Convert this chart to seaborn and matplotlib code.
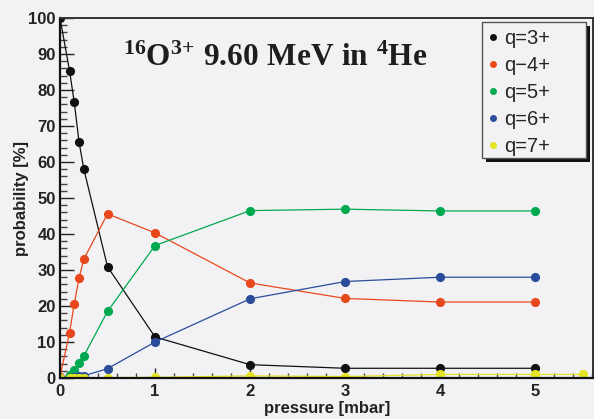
import matplotlib
matplotlib.use("Agg")
import matplotlib.pyplot as plt
import pandas as pd
import seaborn as sns
from matplotlib.lines import Line2D
from matplotlib.patches import Rectangle
from matplotlib.ticker import MultipleLocator

# Charge-state fractions of 16O ions after the helium gas cell
pressure = [0, 0.1, 0.15, 0.2, 0.25, 0.5, 1, 2, 3, 4, 5]
pressure_q7 = [0, 0.1, 0.15, 0.2, 0.25, 0.5, 1, 2, 3, 4, 5, 5.5]

q3 = [100, 85.4, 76.6, 65.6, 58.1, 30.9, 11.4, 3.7, 2.7, 2.7, 2.7]
q4 = [0.4, 12.5, 20.6, 27.7, 33.0, 45.6, 40.3, 26.4, 22.1, 21.1, 21.1]
q5 = [0.0, 0.8, 2.2, 4.1, 6.1, 18.5, 36.8, 46.5, 46.9, 46.4, 46.4]
q6 = [0.0, 0.0, 0.2, 0.5, 0.6, 2.6, 10.0, 22.0, 26.8, 28.0, 28.0]
q7 = [0.0, 0.0, 0.0, 0.0, 0.0, 0.1, 0.2, 0.6, 0.4, 1.0, 1.0, 1.0]

labels = ["q=3+", "q\u22124+", "q=5+", "q=6+", "q=7+"]
colors = ["#111111", "#e9481c", "#00a94f", "#2b4c9a", "#e4e424"]
x_ticks = [0, 1, 2, 3, 4, 5]
y_ticks = [0, 10, 20, 30, 40, 50, 60, 70, 80, 90, 100]

series = [(pressure, q3), (pressure, q4), (pressure, q5), (pressure, q6), (pressure_q7, q7)]
df = pd.concat(
    [pd.DataFrame({"pressure": xs, "probability": ys, "charge": lab})
     for lab, (xs, ys) in zip(labels, series)],
    ignore_index=True,
)

bg = "#f2f2f4"
sns.set_style("ticks", {"axes.facecolor": bg, "figure.facecolor": bg})
plt.rcParams["font.family"] = ["Liberation Sans", "DejaVu Sans"]
plt.rcParams["mathtext.fontset"] = "custom"
plt.rcParams["mathtext.rm"] = "Liberation Serif:bold"
plt.rcParams["mathtext.bf"] = "Liberation Serif:bold"
plt.rcParams["mathtext.it"] = "Liberation Serif:bold"

W, H = 594, 419
fig = plt.figure(figsize=(W / 100, H / 100), dpi=100, facecolor=bg)
ax = fig.add_axes([60 / W, 41 / H, 533 / W, 360 / H])
ax.set_facecolor(bg)

sns.lineplot(
    data=df, x="pressure", y="probability", hue="charge", hue_order=labels,
    palette=colors, marker="o", markersize=6.6, markeredgewidth=0,
    linewidth=0.9, legend=False, sort=False, estimator=None, ax=ax,
)

ax.set_xlim(0, 5.607)
ax.set_ylim(0, 100)
ax.set_xticks(x_ticks)
ax.set_yticks(y_ticks)
ax.xaxis.set_minor_locator(MultipleLocator(0.2))
ax.yaxis.set_minor_locator(MultipleLocator(2))
ax.set_xlabel("")
ax.set_ylabel("")

for side in ["left", "bottom"]:
    ax.spines[side].set_linewidth(1.6)
    ax.spines[side].set_color("#111111")
for side in ["top", "right"]:
    ax.spines[side].set_linewidth(1.4)
    ax.spines[side].set_color("#333333")

ax.tick_params(axis="y", which="major", direction="in", length=10, width=1,
               color="#222222", left=True, right=False, pad=3)
ax.tick_params(axis="y", which="minor", direction="in", length=5, width=1,
               color="#444444", left=True, right=False)
ax.tick_params(axis="x", which="major", direction="in", length=7, width=1,
               color="#222222", bottom=True, top=False, pad=4)
ax.tick_params(axis="x", which="minor", direction="in", length=3.6, width=1,
               color="#444444", bottom=True, top=False)
for lab in ax.get_xticklabels() + ax.get_yticklabels():
    lab.set_fontweight("bold")
    lab.set_fontsize(12)
    lab.set_color("#222222")

fig.text(22 / W, 1 - 198 / H, "probability [%]", rotation=90, ha="center",
         va="center", fontsize=12, fontweight="bold", color="#222222")
fig.text(327 / W, 1 - 408 / H, "pressure [mbar]", ha="center", va="center",
         fontsize=12, fontweight="bold", color="#222222")

fig.text(275.5 / W, 1 - 65.5 / H,
         r"$^{16}\mathrm{O}^{3{+}}\ 9.60\ \mathrm{MeV\ in}\ ^{4}\mathrm{He}$",
         ha="center", va="baseline", fontsize=22.5, color="#1e1e1e")

# Legend box with a hard drop shadow
box_l, box_t, box_r, box_b = 481.7, 21.7, 585.7, 157.7
shadow_off = 4.5
fig.add_artist(Rectangle(((box_l + shadow_off) / W, 1 - (box_b + shadow_off) / H),
                         (box_r - box_l) / W, (box_b - box_t) / H,
                         transform=fig.transFigure, facecolor="#111111",
                         edgecolor="none", zorder=4))
fig.add_artist(Rectangle((box_l / W, 1 - box_b / H),
                         (box_r - box_l) / W, (box_b - box_t) / H,
                         transform=fig.transFigure, facecolor=bg,
                         edgecolor="#555555", linewidth=1.0, zorder=4.2))

handles = [Line2D([], [], marker="o", ls="", color=c, markersize=5,
                  markeredgewidth=0) for c in colors]
leg = fig.legend(
    handles, labels, loc="upper left",
    bbox_to_anchor=((box_l - 3.5) / W, 1 - (box_t - 0.5) / H),
    bbox_transform=fig.transFigure,
    frameon=False, fontsize=14.5, handlelength=0.7, handletextpad=0.2,
    borderpad=0.4, labelspacing=0.4, borderaxespad=0,
)
leg.set_zorder(5)

fig.savefig("out.png", dpi=100, facecolor=bg)
